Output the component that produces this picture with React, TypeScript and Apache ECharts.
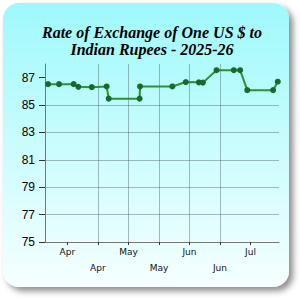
import React, { useEffect, useRef } from "react";
import * as echarts from "echarts";

// Day of year (Jan 1 = 0) of each published rate
const dayOfYear = [80.5, 85.9, 93.1, 95.4, 102, 109.3, 110.3, 125.5, 125.7, 141.6, 148.2, 154.6, 156.6, 163.3, 171.8, 174.9, 178.4, 191.1, 193.4];
// Rupees per US dollar
const rates = [86.53, 86.53, 86.53, 86.33, 86.31, 86.36, 85.47, 85.47, 86.36, 86.36, 86.68, 86.66, 86.64, 87.55, 87.55, 87.55, 86.09, 86.09, 86.71];

const xTickDays = [90, 105, 120, 135, 150, 165, 180];
const xTickLabels = ["Apr", "Apr", "May", "May", "Jun", "Jun", "Jul"];
const yTicks = [75, 77, 79, 81, 83, 85, 87];

const titleLines = ["Rate of Exchange of One US $ to", "Indian Rupees - 2025-26"];

export default function App() {
  const ref = useRef<HTMLDivElement>(null);
  useEffect(() => {
    if (!ref.current) return;
    const chart = echarts.init(ref.current, null, { renderer: "svg" });
    const gridColor = "rgba(70,90,90,0.42)";
    chart.setOption({
      animation: false,
      graphic: [
        {
          type: "rect",
          z: -10,
          silent: true,
          shape: { x: 3, y: 3, width: 286, height: 284, r: 16 },
          style: {
            fill: new echarts.graphic.LinearGradient(0, 0, 0, 1, [
              { offset: 0, color: "#9ef9fc" },
              { offset: 1, color: "#f6ffff" },
            ]),
            shadowBlur: 6,
            shadowOffsetX: 4,
            shadowOffsetY: 4,
            shadowColor: "rgba(0,0,0,0.45)",
          },
        },
      ],
      title: {
        text: titleLines.join("\n"),
        left: 147,
        textAlign: "center",
        top: 19,
        textStyle: {
          fontFamily: "Liberation Serif",
          fontStyle: "italic",
          fontWeight: "bold",
          fontSize: 16,
          lineHeight: 17,
          color: "#000",
        },
      },
      grid: { left: 45, right: 21, top: 64, bottom: 58 },
      xAxis: {
        type: "value",
        min: 79,
        max: 194,
        minInterval: 15,
        maxInterval: 15,
        axisLine: { show: true, lineStyle: { color: "#777", width: 1 } },
        axisTick: { show: true, length: 3, customValues: xTickDays, lineStyle: { color: "#333" } },
        axisLabel: {
          customValues: xTickDays,
          margin: 2,
          fontFamily: "DejaVu Sans",
          fontSize: 9,
          lineHeight: 16,
          color: "#111",
          formatter: (v: number) => {
            const i = xTickDays.indexOf(Math.round(v));
            if (i < 0) return "";
            return (i % 2 === 1 ? "\n" : "") + xTickLabels[i];
          },
        },
        splitLine: { show: true, showMinLine: false, showMaxLine: false, lineStyle: { color: gridColor, width: 1 } },
      },
      yAxis: {
        type: "value",
        min: 75,
        max: 88,
        interval: 2,
        axisLine: { show: true, lineStyle: { color: "#777", width: 1 } },
        axisTick: { show: true, length: 6, customValues: yTicks, lineStyle: { color: "#333" } },
        axisLabel: {
          customValues: yTicks,
          margin: 10,
          fontFamily: "Liberation Sans",
          fontSize: 12,
          color: "#000",
          formatter: (v: number) => (yTicks.indexOf(v) >= 0 ? String(v) : ""),
        },
        splitLine: { show: true, showMinLine: false, showMaxLine: false, lineStyle: { color: gridColor, width: 1 } },
      },
      series: [
        {
          type: "line",
          data: dayOfYear.map((d, i) => [d, rates[i]]),
          symbol: "circle",
          symbolSize: 6,
          lineStyle: { color: "#2f8f35", width: 2 },
          itemStyle: { color: "#166a2b" },
        },
      ],
    });
    return () => chart.dispose();
  }, []);
  return (
    <div
      ref={ref}
      style={{ position: "absolute", left: 0, top: 0, width: 300, height: 300 }}
    />
  );
}
